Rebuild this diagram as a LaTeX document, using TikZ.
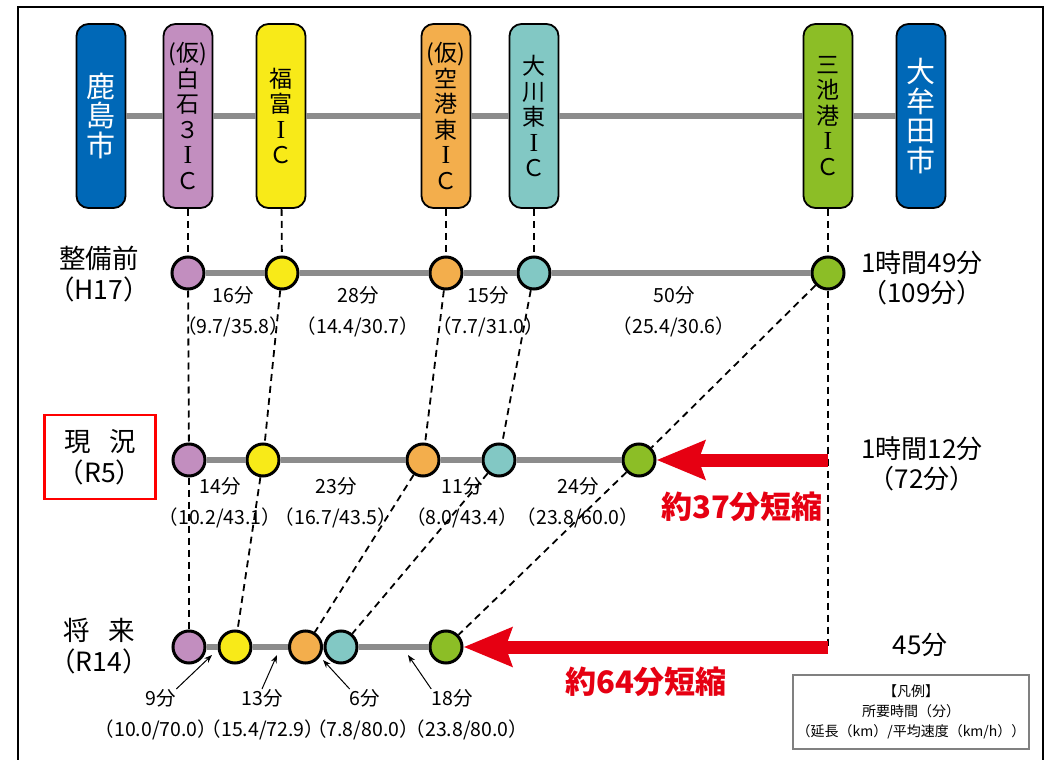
\documentclass[tikz,border=0pt]{standalone}
\usepackage{fontspec}
\setmainfont{Noto Sans CJK JP}
\newfontfamily\icfont{Liberation Serif}
\usetikzlibrary{arrows.meta}

\definecolor{cityblue}{RGB}{0,104,183}
\definecolor{icpurple}{RGB}{194,142,191}
\definecolor{icyellow}{RGB}{248,234,24}
\definecolor{icorange}{RGB}{243,174,76}
\definecolor{icteal}{RGB}{130,200,196}
\definecolor{icgreen}{RGB}{140,190,38}
\definecolor{roadgray}{RGB}{140,140,140}
\definecolor{cutred}{RGB}{230,0,18}
\definecolor{legendgray}{RGB}{128,128,128}

\newcommand{\ici}{{\icfont\fontsize{26}{25.5}\selectfont I}}
\newcommand{\segpar}[1]{\kern-.45em（#1）\kern-.45em}

\tikzset{
  ic/.style={draw=black, line width=1.8pt, rounded corners=12pt, minimum width=49pt,
    minimum height=184pt, inner sep=0pt, align=center, font=\fontsize{23}{25.5}\selectfont},
  city/.style={ic, fill=cityblue, text=white, font=\fontsize{29}{29.5}\selectfont},
  dot/.style={circle, draw=black, line width=3pt, minimum size=32pt, inner sep=0pt},
  road/.style={line width=5.5pt, roadgray},
  link/.style={line width=1.8pt, dash pattern=on 7pt off 5pt},
  seg/.style={align=center, inner sep=0pt, font=\fontsize{19.5}{31}\selectfont},
  era/.style={align=center, font=\fontsize{26.5}{31}\selectfont},
  total/.style={align=center, font=\fontsize{26}{30}\selectfont},
  cutarrow/.style={line width=13pt, cutred, -{Stealth[length=48pt,width=38pt,inset=6pt]}},
  pointer/.style={line width=1pt, -{Stealth[length=8pt,width=6pt]}},
  gain/.style={text=cutred, font=\fontsize{31}{31}\bfseries\selectfont}
}

\begin{document}
\begin{tikzpicture}[x=1pt,y=-1pt]
\useasboundingbox (0,0) rectangle (1053,760);
\fill[white] (0,0) rectangle (1053,760);
\draw[line width=2.5pt] (18,770) -- (18,7) -- (1043,7) -- (1043,770);

\node[city] (kashima) at (101,116) {鹿\\島\\市};
\node[ic,fill=icpurple] (shiraishi) at (188,116) {(仮)\\白\\石\\３\\\ici\\Ｃ};
\node[ic,fill=icyellow] (fukudomi) at (281,116) {福\\富\\\ici\\Ｃ};
\node[ic,fill=icorange] (kuko) at (446,116) {(仮)\\空\\港\\東\\\ici\\Ｃ};
\node[ic,fill=icteal] (okawa) at (534,116) {大\\川\\東\\\ici\\Ｃ};
\node[ic,fill=icgreen] (miike) at (828,116) {三\\池\\港\\\ici\\Ｃ};
\node[city] (omuta) at (921,116) {大\\牟\\田\\市};
\foreach \a/\b in {kashima/shiraishi,shiraishi/fukudomi,fukudomi/kuko,kuko/okawa,okawa/miike,miike/omuta}
  \draw[road] (\a) -- (\b);

\foreach \n/\x/\c in {sh/188/icpurple,fu/282/icyellow,ku/446/icorange,ok/534/icteal,mi/828/icgreen}
  \node[dot,fill=\c] (\n1) at (\x,273) {};
\foreach \n/\x/\c in {sh/189/icpurple,fu/263/icyellow,ku/423/icorange,ok/499/icteal,mi/639/icgreen}
  \node[dot,fill=\c] (\n2) at (\x,460) {};
\foreach \n/\x/\c in {sh/189/icpurple,fu/235/icyellow,ku/305.5/icorange,ok/341/icteal,mi/446/icgreen}
  \node[dot,fill=\c] (\n3) at (\x,647) {};
\foreach \r in {1,2,3}
  \foreach \a/\b in {sh/fu,fu/ku,ku/ok,ok/mi}
    \draw[road] (\a\r) -- (\b\r);

\foreach \a/\b in {shiraishi/sh1,fukudomi/fu1,kuko/ku1,okawa/ok1,miike/mi1}
  \draw[link] (\a) -- (\b);
\foreach \n in {sh,fu,ku,ok,mi}{
  \draw[link] (\n1) -- (\n2);
  \draw[link] (\n2) -- (\n3);
}
\coordinate (m2) at (828,460);
\coordinate (m3) at (828,647);
\draw[link] (mi1) -- (m3);
\draw[cutarrow] (m2) -- (mi2);
\draw[cutarrow] (m3) -- (mi3);

\node[era] (before) at (99,274) {整備前\\（H17）};
\node[era,draw=red,line width=2.5pt,minimum width=111pt,minimum height=84pt] (now) at (100,457) {現\hspace{.7em}況\\（R5）};
\node[era] (future) at (99,646) {将\hspace{.7em}来\\（R14）};

\node[seg] (s11) at (233,312) {16分\\\segpar{9.7/35.8}};
\node[seg] (s12) at (358,312) {28分\\\segpar{14.4/30.7}};
\node[seg] (s13) at (488,312) {15分\\\segpar{7.7/31.0}};
\node[seg] (s14) at (674,312) {50分\\\segpar{25.4/30.6}};
\node[seg] (s21) at (220,503) {14分\\\segpar{10.2/43.1}};
\node[seg] (s22) at (336,503) {23分\\\segpar{16.7/43.5}};
\node[seg] (s23) at (462,503) {11分\\\segpar{8.0/43.4}};
\node[seg] (s24) at (578,503) {24分\\\segpar{23.8/60.0}};

\node[seg] (t31) at (161,698) {9分};
\node[seg] (t32) at (262,698) {13分};
\node[seg] (t33) at (365,698) {6分};
\node[seg] (t34) at (452,698) {18分};
\node[seg] (d31) at (156,730) {\segpar{10.0/70.0}};
\node[seg] (d32) at (263,730) {\segpar{15.4/72.9}};
\node[seg] (d33) at (363,730) {\segpar{7.8/80.0}};
\node[seg] (d34) at (467,730) {\segpar{23.8/80.0}};
\coordinate (a31) at (212,655);
\coordinate (a32) at (277,655);
\coordinate (a33) at (323,660);
\coordinate (a34) at (408,655);
\draw[pointer] (t31.north east) -- (a31);
\draw[pointer] (t32.north) -- (a32);
\draw[pointer] (t33.north west) -- (a33);
\draw[pointer] (t34.north west) -- (a34);

\node[total] (tot1) at (922,278) {1時間49分\\（109分）};
\node[total] (tot2) at (922,464) {1時間12分\\（72分）};
\node[total] (tot3) at (920,645) {45分};
\node[gain] (gain2) at (742,507) {約37分短縮};
\node[gain] (gain3) at (646,682) {約64分短縮};

\node[draw=legendgray,line width=1.5pt,minimum width=234pt,minimum height=74pt,align=center,
  font=\fontsize{14}{20}\selectfont] (legend) at (911,712) {【凡例】\\所要時間（分）\\（延長（km）/平均速度（km/h））};
\end{tikzpicture}
\end{document}
